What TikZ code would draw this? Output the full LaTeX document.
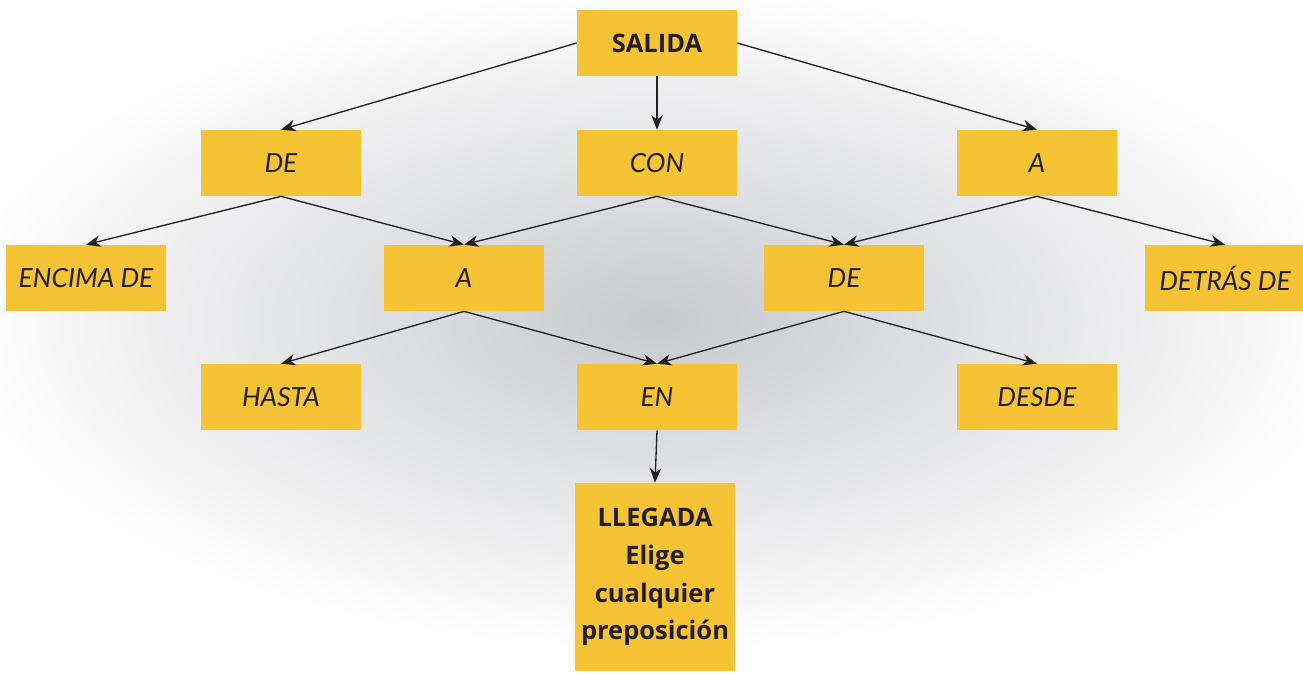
\documentclass[tikz,border=0pt]{standalone}
\usepackage{fontspec}
\setmainfont{Open Sans}
\newfontfamily\handfont{Lato}
\usepackage{tikz}
\usetikzlibrary{positioning,calc,arrows.meta}

\definecolor{boxyellow}{HTML}{F6C335}
\definecolor{inkdark}{HTML}{231F20}
\definecolor{bgmid}{HTML}{C8C9CC}
\definecolor{bgsoft}{HTML}{DCDDE0}
\definecolor{bgpale}{HTML}{F1F1F2}
\pgfdeclareradialshading{bgglow}{\pgfpoint{0bp}{0bp}}{%
	color(0bp)=(bgmid); color(9bp)=(bgsoft); color(19bp)=(bgpale);
	color(25bp)=(white); color(50bp)=(white)}

\begin{document}
\begin{tikzpicture}[
	x=0.02cm, y=-0.02cm,
	box/.style = {rectangle, fill=boxyellow, text=inkdark,
		minimum width=3.2cm, minimum height=1.32cm, inner sep=0pt},
	hand/.style = {box, font=\handfont\itshape\fontsize{15}{18}\selectfont},
	goal/.style = {box, align=center,
		font=\bfseries\fontsize{14.5}{21.5}\selectfont},
	link/.style = {draw=inkdark, line width=0.75pt,
		-{Stealth[length=2.9mm, width=2.3mm, inset=0.9mm]}},
	]
	\fill[white] (0,0) rectangle (1303,674);
	\useasboundingbox (0,0) rectangle (1303,674);
	\begin{scope}
	\clip (0,0) rectangle (1303,674);
	\shade[shading=bgglow] (657,320) ellipse [x radius=14cm, y radius=6.6cm];
	\end{scope}
	
	% start and top row
	\node[goal] (salida) at (657,43) {SALIDA};
	\node[hand] (de1) at (281,163) {DE};
	\node[hand] (con) at (657,163) {CON};
	\node[hand] (a1) at (1037,163) {A};
	
	% middle row
	\node[hand] (encima) at (86,278) {ENCIMA DE};
	\node[hand] (a2) at (464,278) {A};
	\node[hand] (de2) at (844,278) {DE};
	\node[hand] (detras) at (1225,278) {DETRÁS DE};
	
	% lower row
	\node[hand] (hasta) at (281,397) {HASTA};
	\node[hand] (en) at (657,397) {EN};
	\node[hand] (desde) at (1037,397) {DESDE};
	
	\node[goal, minimum height=3.76cm, text width=3.2cm] (llegada) at (655,577)
		{LLEGADA\\Elige\\cualquier\\preposición};
	
	\draw[link] (salida.west) -- (de1.north);
	\draw[link] (salida.south) -- (con.north);
	\draw[link] (salida.east) -- (a1.north);
	
	\draw[link] (de1.south) -- (encima.north);
	\draw[link] (de1.south) -- (a2.north);
	\draw[link] (con.south) -- (a2.north);
	\draw[link] (con.south) -- (de2.north);
	\draw[link] (a1.south) -- (de2.north);
	\draw[link] (a1.south) -- (detras.north);
	
	\draw[link] (a2.south) -- (hasta.north);
	\draw[link] (a2.south) -- (en.north);
	\draw[link] (de2.south) -- (en.north);
	\draw[link] (de2.south) -- (desde.north);
	
	\draw[link] (en.south) -- (llegada.north);
\end{tikzpicture}
\end{document}
